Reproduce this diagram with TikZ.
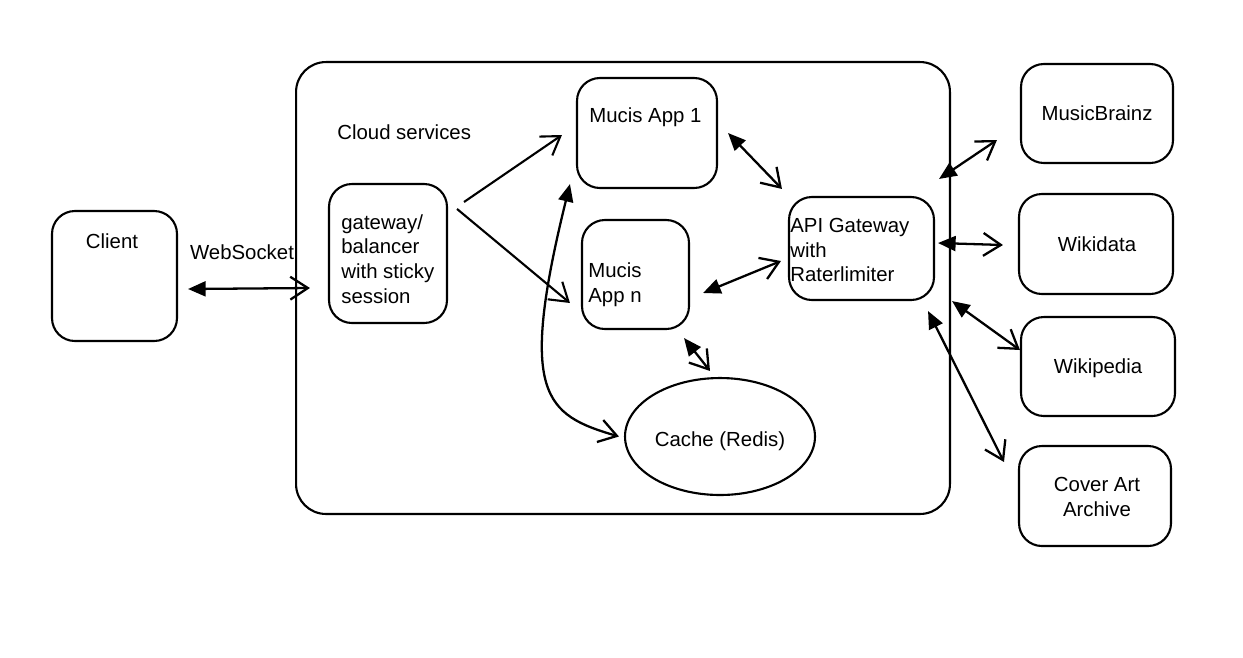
\documentclass[tikz,border=0pt]{standalone}
\usepackage{fontspec}
\setmainfont{Liberation Sans}
\usetikzlibrary{arrows.meta,shapes.geometric,calc}
\begin{document}
\begin{tikzpicture}[x=0.02cm,y=-0.02cm,
  box/.style={draw, line width=1.2pt, rounded corners=13pt, inner sep=0pt},
  bigbox/.style={draw, line width=1.2pt, rounded corners=17pt, inner sep=0pt},
  oval/.style={draw, ellipse, line width=1.2pt, inner sep=0pt},
  txt/.style={font=\fontsize{11.6}{14}\selectfont, inner sep=0pt},
  ltxt/.style={txt, align=left, anchor=west},
  ctxt/.style={txt, align=center},
  fw/.style={line width=1.2pt, -{Straight Barb[length=10pt,width=13pt]}},
  bi/.style={line width=1.3pt, {Triangle[length=10pt,width=8.5pt]}-{Straight Barb[length=10pt,width=13pt]}}]
\path[use as bounding box] (0,0) rectangle (1243,657);
\fill[white] (0,0) rectangle (1243,657);

% boxes
\node[bigbox, minimum width=13.08cm, minimum height=9.04cm] (cloud) at (623,288) {};
\node[box, minimum width=2.5cm, minimum height=2.6cm] (client) at (114.5,276) {};
\node[box, minimum width=2.36cm, minimum height=2.78cm] (gw) at (388,253.5) {};
\node[box, minimum width=2.8cm, minimum height=2.2cm] (app1) at (647,133) {};
\node[box, minimum width=2.14cm, minimum height=2.18cm] (appn) at (635.5,274.5) {};
\node[box, minimum width=2.9cm, minimum height=2.06cm] (api) at (861.5,248.5) {};
\node[oval, minimum width=3.8cm, minimum height=2.34cm] (cache) at (720,436.5) {};
\node[box, minimum width=3.04cm, minimum height=1.98cm] (mb) at (1097,113.5) {};
\node[box, minimum width=3.08cm, minimum height=2.0cm] (wd) at (1096,244) {};
\node[box, minimum width=3.08cm, minimum height=1.98cm] (wp) at (1098,366.5) {};
\node[box, minimum width=3.04cm, minimum height=2.0cm] (ca) at (1095,496) {};

% texts
\node[ctxt] (tclient) at (112,241) {Client};
\node[ctxt] (tws) at (242,252) {WebSocket};
\node[ltxt] (tcloud) at (337,132) {Cloud services};
\node[ltxt] (tgw) at (341,259) {gateway/\\balancer\\with sticky\\session};
\node[ltxt] (tapp1) at (589,117) {Mucis App 1};
\node[ltxt] (tappn) at (588,285) {Mucis\\App n};
\node[ltxt] (tapi) at (790,250) {API Gateway\\with\\Raterlimiter};
\node[ctxt] (tcache) at (720,441) {Cache (Redis)};
\node[ctxt] (tmb) at (1097,113) {MusicBrainz};
\node[ctxt] (twd) at (1097,244) {Wikidata};
\node[ctxt] (twp) at (1098,368) {Wikipedia};
\node[ctxt] (tca) at (1097,497) {Cover Art\\Archive};

% connectors
\draw[bi] ($(client.east)+(10,13)$) -- ($(gw.west)+(-18,34.5)$);
\draw[fw] ($(gw.north east)+(16,19)$) -- ($(app1.west)+(-14,2)$);
\draw[fw] ($(gw.north east)+(9,26)$) -- ($(appn.west)+(-11,28.5)$);
\draw[bi] ($(app1.east)+(10,0)$) -- ($(api.north west)+(-6,-7)$);
\draw[bi] ($(appn.east)+(13,18.5)$) -- ($(api.west)+(-7,12.5)$);
\draw[bi] ($(appn.south east)+(-6,8)$) -- ($(cache.north)+(-10,-6)$);
\draw[bi] ($(app1.south west)+(-6,-5)$) .. controls (518,395) and (545,415) .. ($(cache.west)+(-5,0)$);
\draw[bi] ($(api.north east)+(4,-17)$) -- ($(mb.west)+(-23,26.5)$);
\draw[bi] ($(api.east)+(3,-5.5)$) -- ($(wd.west)+(-15,1)$);
\draw[bi] ($(api.south east)+(17,0)$) -- ($(wp.west)+(0,-16.5)$);
\draw[bi] ($(api.south east)+(-7,10)$) -- ($(ca.north west)+(-14,17)$);
\end{tikzpicture}
\end{document}
